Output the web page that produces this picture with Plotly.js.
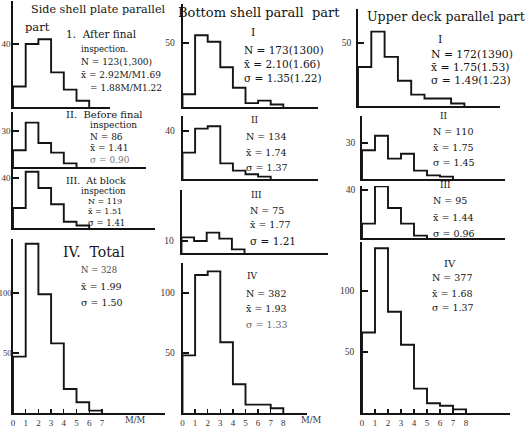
<!DOCTYPE html>
<html><head><meta charset="utf-8">
<script src="https://cdn.plot.ly/plotly-3.0.1.min.js"></script>
<style>html,body{margin:0;padding:0;background:#fff}#chart{width:530px;height:429px}</style>
</head><body><div id="chart"></div>
<script>
// Defect counts per 1 mm size bin (0-1, 1-2, ...), by hull region and inspection stage
const sideI      = [13, 40, 43, 22, 11, 4];
const sideII     = [14, 37, 20, 12, 3];
const sideIII    = [16, 45, 32, 19, 5, 2];
const sideTotal  = [47, 141, 99, 58, 20, 9, 2];
const bottomI     = [10, 56, 51, 31, 15, 3, 5, 2];
const bottomII    = [22, 42, 44, 13, 7, 4, 2];
const bottomIII   = [13, 10, 17, 12, 3];
const bottomTotal = [48, 115, 118, 59, 24, 7, 7, 4];
const upperI     = [31, 59, 39, 20, 9, 6, 6, 2];
const upperII    = [24, 36, 17, 21, 7, 3, 2];
const upperIII   = [12, 43, 25, 12, 2];
const upperTotal = [66, 135, 83, 56, 20, 8, 6, 3];

// axis tick labels
const yTicksSide   = [[40], [30], [40], [50, 100]];
const yTicksBottom = [[50], [40], [10], [50, 100]];
const yTicksUpper  = [[50], [30], [40], [50, 100]];
const xTicksSide   = ['0', '1', '2', '3', '4', '5', '6', '7'];
const xTicksOther  = ['0', '1', '2', '3', '4', '5', '6', '7', '8'];

const W = 530, H = 429;
const FONT = 'DejaVu Serif, Liberation Serif, serif';
const TICKFONT = 'Liberation Serif, DejaVu Serif, serif';
const INK = '#141414';
const fx = x => x / W;
const fy = y => 1 - y / H;

// frame of each panel in pixels: y-axis x, baseline end, axis top, baseline, px per bin, px per count
const panels = [
  {data: sideI,   ticks: yTicksSide[0],   ax: 13,  xEnd: 110, top: 1,   base: 107, unit: 12.7, k: 1.575, so: -1, fs: 9},
  {data: sideII,  ticks: yTicksSide[1],   ax: 13,  xEnd: 146, top: 112, base: 167, unit: 12.7, k: 1.2,   so: -1, fs: 9},
  {data: sideIII, ticks: yTicksSide[2],   ax: 13,  xEnd: 155, top: 169, base: 228, unit: 12.7, k: 1.25,  so: -1, fs: 9},
  {data: sideTotal, ticks: yTicksSide[3], ax: 13,  xEnd: 165, top: 239, base: 413, unit: 12.7, k: 1.2,   so: -2, fs: 8.5, xt: xTicksSide},
  {data: bottomI,   ticks: yTicksBottom[0], ax: 182.5, xEnd: 318, top: 4,   base: 107, unit: 12.6, k: 1.28, so: 4},
  {data: bottomII,  ticks: yTicksBottom[1], ax: 182.5, xEnd: 318, top: 116, base: 179, unit: 12.6, k: 1.2,  so: 4},
  {data: bottomIII, ticks: yTicksBottom[2], ax: 181.5, xEnd: 328, top: 190, base: 253, unit: 12.6, k: 1.2,  so: 4},
  {data: bottomTotal, ticks: yTicksBottom[3], ax: 182.5, xEnd: 307, top: 263, base: 413, unit: 12.6, k: 1.2, so: 4, xt: xTicksOther},
  {data: upperI,   ticks: yTicksUpper[0], ax: 358, xEnd: 500, top: 9,   base: 106, unit: 13.3, k: 1.26, so: 3},
  {data: upperII,  ticks: yTicksUpper[1], ax: 362, xEnd: 505, top: 116, base: 179, unit: 13.0, k: 1.2,  so: 3},
  {data: upperIII, ticks: yTicksUpper[2], ax: 362, xEnd: 505, top: 186, base: 238, unit: 13.0, k: 1.2,  so: 3},
  {data: upperTotal, ticks: yTicksUpper[3], ax: 362, xEnd: 510, top: 242, base: 413, unit: 13.0, k: 1.22, so: 4, xt: xTicksOther}
];

const traces = [];
const layout = {
  width: W, height: H,
  margin: {l: 0, r: 0, t: 0, b: 0},
  paper_bgcolor: '#fff', plot_bgcolor: 'rgba(0,0,0,0)',
  showlegend: false,
  font: {family: FONT, color: INK, size: 10},
  annotations: []
};

panels.forEach((p, i) => {
  const n = p.data.length;
  const edges = Array.from({length: n + 1}, (_, j) => j);
  const sfx = i === 0 ? '' : String(i + 1);
  // step outline: rise at the axis, step across each bin, drop back after the last bin
  traces.push({
    type: 'scatter', mode: 'lines',
    x: [0].concat(edges),
    y: [0].concat(p.data, [0]),
    line: {shape: 'hv', color: INK, width: 1.9},
    cliponaxis: false, hoverinfo: 'skip',
    xaxis: 'x' + sfx, yaxis: 'y' + sfx
  });
  const hasX = !!p.xt;
  layout['xaxis' + sfx] = {
    domain: [fx(p.ax), fx(p.xEnd)],
    range: [0, (p.xEnd - p.ax) / p.unit],
    anchor: 'y' + sfx,
    showline: true, linecolor: INK, linewidth: 1.8,
    showgrid: false, zeroline: false,
    ticks: hasX ? 'inside' : '', ticklen: 4, tickwidth: 1.3, tickcolor: INK,
    tickvals: hasX ? p.xt.map(Number) : [],
    ticktext: hasX ? p.xt : [],
    showticklabels: hasX,
    tickfont: {family: TICKFONT, size: 9, color: '#333'},
    fixedrange: true
  };
  layout['yaxis' + sfx] = {
    domain: [fy(p.base), fy(p.top)],
    range: [0, (p.base - p.top) / p.k],
    anchor: 'x' + sfx,
    showline: true, linecolor: INK, linewidth: 1.8,
    showgrid: false, zeroline: false,
    ticks: 'inside', ticklen: 6, tickwidth: 1.3, tickcolor: INK,
    tickvals: p.ticks, ticktext: p.ticks.map(String),
    ticklabelstandoff: p.so,
    tickfont: {family: TICKFONT, size: p.fs || 9.5, color: '#333'},
    fixedrange: true
  };
});

function note(text, x, y, size, color, anchor) {
  layout.annotations.push({
    text: text, x: fx(x), y: fy(y), xref: 'paper', yref: 'paper',
    xanchor: anchor || 'left', yanchor: 'middle', align: anchor || 'left', showarrow: false,
    borderpad: 0,
    font: {family: FONT, size: size || 10, color: color || INK}
  });
}

// region headings (placed by their centres)
note('Side shell plate parallel', 98, 10, 11.2, INK, 'center');
note('part', 37, 27, 11.5, INK, 'center');
note('Bottom shell parall  part', 259, 13, 13, INK, 'center');
note('Upper deck parallel part', 446, 17, 12.6, INK, 'center');

// side shell plate
note('1.  After final', 65, 34, 10.5);
note('inspection.', 80, 49, 8.5);
note('N = 123(1,300)', 80, 62, 9);
note('x\u0304 = 2.92M/M1.69', 80, 75, 9);
note('= 1.88M/M1.22', 89, 88, 9);
note('II.  Before final', 65, 114, 10);
note('inspection', 89, 125, 9);
note('N = 86', 89, 137, 9);
note('x\u0304 = 1.41', 89, 148, 9);
note('\u03c3 = 0.90', 89, 160, 9, '#777');
note('III.  At block', 65, 180, 9.5);
note('inspection', 80, 191, 8.5);
note('N = 119', 87, 201, 8);
note('x\u0304 = 1.51', 87, 212, 8);
note('\u03c3 = 1.41', 87, 223, 8.5);
note('IV.  Total', 62, 252, 14);
note('N = 328', 80, 270, 8.5, '#444');
note('x\u0304 = 1.99', 80, 286, 9.5);
note('\u03c3 = 1.50', 80, 302, 9.5);
note('M/M', 124, 420, 8.5, '#333');

// bottom shell
note('I', 250, 33, 11);
note('N = 173(1300)', 243, 50, 10.5);
note('x\u0304 = 2.10(1.66)', 243, 64, 10.5);
note('\u03c3 = 1.35(1.22)', 243, 78, 10.5);
note('II', 250, 120, 9);
note('N = 134', 245, 137, 9.5);
note('x\u0304 = 1.74', 245, 152, 9.5);
note('\u03c3 = 1.37', 245, 167, 9.5);
note('III', 250, 195, 9);
note('N = 75', 249, 210, 9.5);
note('x\u0304 = 1.77', 249, 224, 9.5);
note('\u03c3 = 1.21', 249, 241, 10.5);
note('IV', 246, 276, 9);
note('N = 382', 245, 293, 9.5);
note('x\u0304 = 1.93', 245, 308, 9.5);
note('\u03c3 = 1.33', 245, 324, 9.5, '#666');
note('M/M', 300, 420, 8.5, '#333');

// upper deck
note('I', 437, 40, 11);
note('N = 172(1390)', 430, 55, 10.8);
note('x\u0304 = 1.75(1.53)', 430, 68, 10.8);
note('\u03c3 = 1.49(1.23)', 430, 81, 10.8);
note('II', 439, 116, 9);
note('N = 110', 432, 131, 9.5);
note('x\u0304 = 1.75', 432, 147, 9.5);
note('\u03c3 = 1.45', 432, 162, 9.5);
note('III', 439, 185, 9);
note('N = 95', 432, 200, 9.5);
note('x\u0304 = 1.44', 432, 217, 9.5);
note('\u03c3 = 0.96', 432, 233, 9.5);
note('IV', 443, 263, 10);
note('N = 377', 431, 277, 9.5);
note('x\u0304 = 1.68', 431, 293, 9.5);
note('\u03c3 = 1.37', 431, 307, 9.5);

Plotly.newPlot('chart', traces, layout, {staticPlot: true, displayModeBar: false});
</script>
</body></html>
